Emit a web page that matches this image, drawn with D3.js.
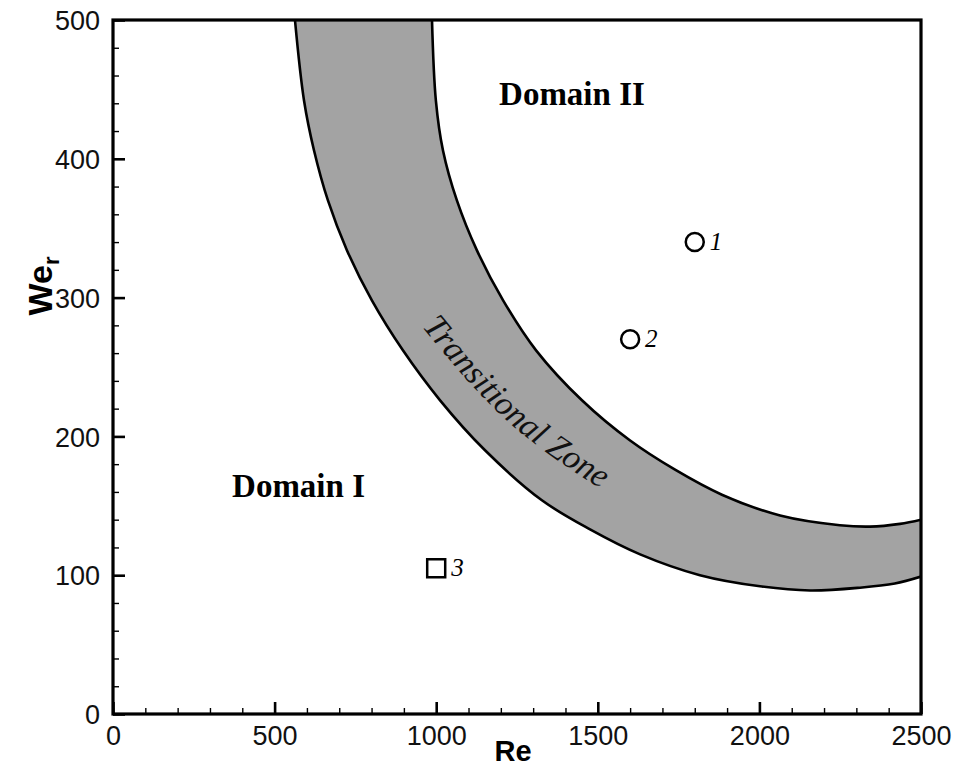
<!DOCTYPE html>
<html><head><meta charset="utf-8">
<script src="https://cdn.jsdelivr.net/npm/d3@7/dist/d3.min.js"></script>
<style>body{margin:0;background:#fff}</style></head>
<body>
<svg id="chart" width="976" height="769"></svg>
<script>
// ---- data ----
const xTicks = [0, 500, 1000, 1500, 2000, 2500];
const yTicks = [0, 100, 200, 300, 400, 500];
const xMinor = d3.range(0, 2501, 100);
const yMinor = d3.range(0, 501, 20);

// lower-left boundary of the transitional zone
const innerRe = [563, 591, 622, 665, 724, 801, 897, 1012, 1151, 1327, 1476, 1631, 1816, 2002, 2157, 2311, 2419, 2500];
const innerWe = [500, 442, 406, 370, 334, 298, 262, 226, 190, 154, 133, 115, 100, 92, 89, 91, 94, 99];
// upper-right boundary of the transitional zone
const outerRe = [987, 999, 1021, 1064, 1126, 1207, 1309, 1451, 1600, 1739, 1884, 2064, 2249, 2342, 2435, 2500];
const outerWe = [500, 442, 406, 370, 334, 298, 262, 226, 197, 176, 158, 143, 136, 135, 137, 140];

// labelled cases
const caseRe = [1800, 1600, 1000];
const caseWe = [340, 270, 105];
const caseShape = ["circle", "circle", "square"];
const caseLabel = ["1", "2", "3"];

// guide for the "Transitional Zone" text
const zoneTextRe = [956, 1086, 1225, 1380, 1550, 1736];
const zoneTextWe = [279, 243, 210, 182, 157, 137];

const regionLabels = ["Domain II", "Domain I"];
const regionRe = [1420, 574];
const regionWe = [439, 156];

// ---- layout ----
const W = 976, H = 769;
const m = {left: 113, top: 20, right: 55, bottom: 55};
const iw = W - m.left - m.right, ih = H - m.top - m.bottom;
const svg = d3.select("#chart");
const g = svg.append("g").attr("transform", `translate(${m.left},${m.top})`);

const x = d3.scaleLinear().domain([0, 2500]).range([0, iw]);
const y = d3.scaleLinear().domain([0, 500]).range([ih, 0]);

svg.append("defs").append("clipPath").attr("id", "plotclip")
  .append("rect").attr("width", iw).attr("height", ih);

// band
const inner = innerRe.map((r, i) => [x(r), y(innerWe[i])]);
const outer = outerRe.map((r, i) => [x(r), y(outerWe[i])]);
const lineGen = d3.line().curve(d3.curveCatmullRom.alpha(0.5));
const bandG = g.append("g").attr("clip-path", "url(#plotclip)");
const innerPath = lineGen(inner);
const outerRev = lineGen(outer.slice().reverse());
bandG.append("path")
  .attr("d", innerPath + "L" + outerRev.slice(1) + "Z")
  .attr("fill", "#a3a3a3").attr("stroke", "none");
bandG.append("path").attr("d", innerPath).attr("fill", "none").attr("stroke", "#000").attr("stroke-width", 2.6);
bandG.append("path").attr("d", lineGen(outer)).attr("fill", "none").attr("stroke", "#000").attr("stroke-width", 2.6);

// zone text on path
const guide = zoneTextRe.map((r, i) => [x(r), y(zoneTextWe[i])]);
g.append("path").attr("id", "zoneGuide").attr("d", lineGen(guide)).attr("fill", "none").attr("stroke", "none");
g.append("text")
  .attr("font-family", "Liberation Serif, Times New Roman, serif")
  .attr("font-style", "italic").attr("font-size", 34).attr("fill", "#111")
  .append("textPath").attr("href", "#zoneGuide").attr("startOffset", 0)
  .text("Transitional Zone");

// region labels
g.selectAll("text.region").data(regionLabels).join("text")
  .attr("class", "region")
  .attr("x", (d, i) => x(regionRe[i])).attr("y", (d, i) => y(regionWe[i]))
  .attr("text-anchor", "middle")
  .attr("font-family", "Liberation Serif, Times New Roman, serif")
  .attr("font-weight", "bold").attr("font-size", 33)
  .text(d => d);

// cases
caseRe.forEach((r, i) => {
  const cx = x(r), cy = y(caseWe[i]);
  if (caseShape[i] === "circle") {
    g.append("circle").attr("cx", cx).attr("cy", cy).attr("r", 9)
      .attr("fill", "none").attr("stroke", "#000").attr("stroke-width", 2.5);
  } else {
    g.append("rect").attr("x", cx - 9).attr("y", cy - 9).attr("width", 18).attr("height", 18)
      .attr("fill", "none").attr("stroke", "#000").attr("stroke-width", 2.5);
  }
  g.append("text").attr("x", cx + 15).attr("y", cy + 8)
    .attr("font-family", "Liberation Serif, Times New Roman, serif")
    .attr("font-style", "italic").attr("font-size", 25)
    .text(caseLabel[i]);
});

// axes
const fontSans = "Liberation Sans, Arial, Helvetica, sans-serif";
const xAx = g.append("g").attr("transform", `translate(0,${ih})`)
  .call(d3.axisBottom(x).tickValues(xTicks).tickFormat(d3.format("d")).tickSizeInner(-12).tickSizeOuter(0).tickPadding(12));
const xAxMinor = g.append("g").attr("transform", `translate(0,${ih})`)
  .call(d3.axisBottom(x).tickValues(xMinor).tickFormat("").tickSizeInner(-6).tickSizeOuter(0));
const yAx = g.append("g")
  .call(d3.axisLeft(y).tickValues(yTicks).tickFormat(d3.format("d")).tickSizeInner(-12).tickSizeOuter(0).tickPadding(13));
const yAxMinor = g.append("g")
  .call(d3.axisLeft(y).tickValues(yMinor).tickFormat("").tickSizeInner(-6).tickSizeOuter(0));
[xAx, yAx].forEach(a => {
  a.select(".domain").remove();
  a.selectAll(".tick line").attr("stroke", "#000").attr("stroke-width", 2.6);
  a.selectAll(".tick text").attr("font-family", fontSans).attr("font-size", 27).attr("fill", "#111");
});
[xAxMinor, yAxMinor].forEach(a => {
  a.select(".domain").remove();
  a.selectAll(".tick line").attr("stroke", "#000").attr("stroke-width", 1.4);
});
xAx.selectAll(".tick text").attr("dy", "0.72em");
yAx.selectAll(".tick text").attr("dy", "0.36em");

// frame
g.append("rect").attr("width", iw).attr("height", ih)
  .attr("fill", "none").attr("stroke", "#000").attr("stroke-width", 3.2);

// axis titles
svg.append("text")
  .attr("x", m.left + iw / 2 - 4).attr("y", H - 8)
  .attr("text-anchor", "middle").attr("font-family", fontSans)
  .attr("font-weight", "bold").attr("font-size", 29).text("Re");
const yt = svg.append("text")
  .attr("transform", `translate(52,286) rotate(-90)`)
  .attr("text-anchor", "middle").attr("font-family", fontSans)
  .attr("font-weight", "bold").attr("font-size", 34);
yt.append("tspan").text("We");
yt.append("tspan").attr("font-size", 22).attr("dy", 7).text("r");
</script>
</body></html>
